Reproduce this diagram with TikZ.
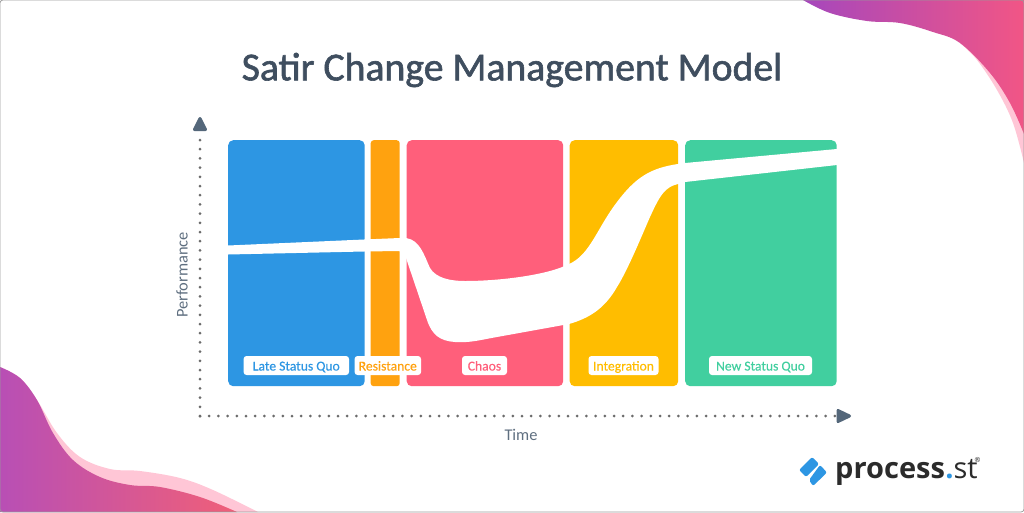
\documentclass[tikz,border=0pt]{standalone}
\usepackage{fontspec}
\setmainfont{Carlito}
\newfontfamily\titlefont[FakeBold=1.5]{Carlito}
\newfontfamily\tagfont[FakeBold=0.25]{Carlito}
\newfontfamily\logofont{Open Sans}
\definecolor{cblue}{HTML}{2D96E3}
\definecolor{corange}{HTML}{FFA20F}
\definecolor{cred}{HTML}{FF5F7B}
\definecolor{cyellow}{HTML}{FFBD00}
\definecolor{cgreen}{HTML}{41CF9F}
\definecolor{cpink}{HTML}{FFC6D6}
\definecolor{ctitle}{HTML}{3F4E5F}
\definecolor{caxis}{HTML}{54677A}
\definecolor{clabel}{HTML}{5F6F80}
\definecolor{clogo}{HTML}{2B2B2B}
\definecolor{gleft}{HTML}{B84FB5}
\definecolor{gright}{HTML}{F05F78}
\tikzset{
  panel/.style={rounded corners=5pt,minimum height=246pt,inner sep=0pt,anchor=north west},
  tag/.style={fill=white,rounded corners=3pt,minimum height=19pt,inner sep=0pt,anchor=center,text height=11pt,text depth=1pt,font=\tagfont\fontsize{13.6}{13.6}\selectfont},
  dots/.style={draw=black!58,line width=3pt,line cap=round,dash pattern=on 0pt off 9.2pt},
  axishead/.style={fill=caxis,draw=caxis,line width=3pt,line join=round},
  axistext/.style={text=clabel,font=\fontsize{16.4}{16.4}\selectfont}
}
\begin{document}
\begin{tikzpicture}[x=1pt,y=-1pt]
\useasboundingbox (0,0) rectangle (1024,512);
\fill[white] (0,0) rectangle (1024,512);
% blobs
\fill[cpink] plot[smooth,tension=.6] coordinates {(0,367) (20,378) (37,400) (57,433) (80,457) (110,469) (140,471) (180,478) (213,490) (258,512)} -- (0,512) -- cycle;
\path[left color=gleft,right color=gright] plot[smooth,tension=.6] coordinates {(0,367) (20,378) (37,400) (53,433) (73,460) (100,477) (130,485) (160,487) (200,497) (237,512)} -- (0,512) -- cycle;
\fill[cpink] plot[smooth,tension=.6] coordinates {(960,43) (977,60) (997,90) (1013,123) (1024,163)} -- (1024,0) -- cycle;
\path[left color=gleft!90!blue,right color=gright!90!magenta] plot[smooth,tension=.6] coordinates {(803,0) (830,13) (867,21) (900,23) (933,32) (960,43) (990,73) (1010,103) (1024,134)} -- (1024,0) -- cycle;
\draw[black!40,line width=.7pt,rounded corners=3pt] (0,0) rectangle (1024,512);
% title
\node[text=ctitle,font=\titlefont\fontsize{39.7}{40}\selectfont] (title) at (512,70) {Satir Change Management Model};
% panels
\node[panel,fill=cblue,minimum width=136.5pt] (p1) at (228,140) {};
\node[panel,fill=corange,minimum width=29pt,rounded corners=3pt] (p2) at (370.5,140) {};
\node[panel,fill=cred,minimum width=156.5pt] (p3) at (406.5,140) {};
\node[panel,fill=cyellow,minimum width=108.5pt] (p4) at (569.5,140) {};
\node[panel,fill=cgreen,minimum width=151.5pt] (p5) at (685,140) {};
% band
\fill[white] (228,245.5) -- (364,239.5) -- (399.5,238) -- (406,238)
  .. controls (420,240) and (424,255) .. (430,268)
  .. controls (436,278) and (450,281) .. (465,281)
  .. controls (500,281) and (548,275) .. (569,264)
  .. controls (590,255) and (597,228) .. (617,202)
  .. controls (635,178) and (650,168) .. (678,164)
  -- (685,163) -- (837,149) -- (837,165) -- (685,182) -- (678,184)
  .. controls (665,187) and (660,195) .. (650,217)
  .. controls (645,228) and (628,270) .. (617,287)
  .. controls (605,308) and (590,318) .. (569,324)
  -- (497,337)
  .. controls (480,340) and (470,343) .. (455,342)
  .. controls (440,341) and (432,335) .. (427,320)
  -- (406,258)
  -- (399.5,251) -- (364,251.5) -- (228,254.5) -- cycle;
% labels
\node[tag,minimum width=105.5pt,text=cblue] (l1) at (296.3,365.5) {Late Status Quo};
\node[tag,minimum width=66.5pt,text=corange] (l2) at (387.8,365.5) {Resistance};
\node[tag,minimum width=45pt,text=cred] (l3) at (484.5,365.5) {Chaos};
\node[tag,minimum width=70pt,text=cyellow] (l4) at (623.5,365.5) {Integration};
\node[tag,minimum width=103pt,text=cgreen] (l5) at (760.5,365.5) {New Status Quo};
% axes
\coordinate (origin) at (200,416);
\coordinate (ytop) at (200,137);
\coordinate (xend) at (838,416);
\draw[dots] (origin) -- (ytop);
\draw[dots] (origin) -- (xend);
\draw[axishead] (200,118.5) -- (205.5,129.5) -- (194.5,129.5) -- cycle;
\draw[axishead] (849.5,416) -- (838,410.5) -- (838,421.5) -- cycle;
\node[axistext,rotate=90] (ylab) at (182,275) {Performance};
\node[axistext] (xlab) at (521,434.5) {Time};
% logo
\fill[cblue,rounded corners=2pt] (799,470) -- (812,457) -- (819,464) -- (806,477) -- cycle;
\fill[cblue,rounded corners=2pt] (809,480) -- (820,465) -- (827,472.5) -- (813,486) -- cycle;
\node[anchor=base west,inner sep=0pt,text=clogo,font=\logofont\fontsize{29}{29}\selectfont\bfseries] (logo) at (835,478) {process};
\node[anchor=base west,inner sep=0pt,font=\logofont\fontsize{29}{29}\selectfont] (logob) at (logo.base east) {\textcolor{cblue}{\textbf{.}}\textcolor{clogo}{st}};
\node[anchor=center,inner sep=0pt,text=clogo,font=\logofont\fontsize{7}{7}\selectfont] (reg) at (977.5,459.5) {®};
\end{tikzpicture}
\end{document}
